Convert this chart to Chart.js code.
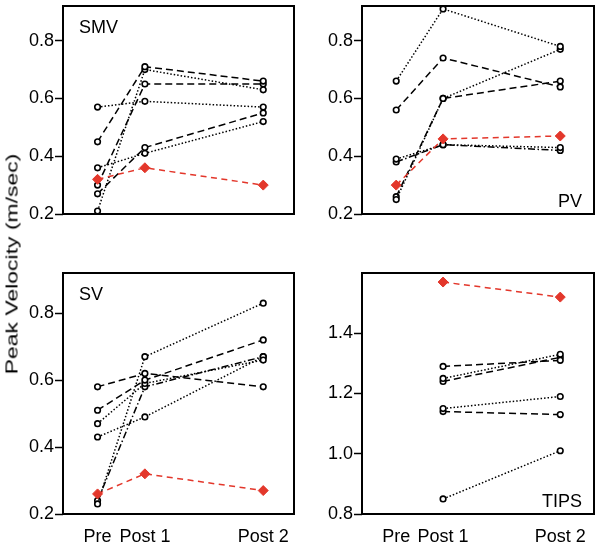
<!DOCTYPE html>
<html>
<head>
<meta charset="utf-8">
<script src="https://cdn.jsdelivr.net/npm/chart.js@4"></script>
<style>
  html, body { margin: 0; padding: 0; background: #fff; }
  body { width: 600px; height: 542px; position: relative; overflow: hidden; font-family: "Liberation Sans", Arial, sans-serif; }
  .panel { position: absolute; }
  #ytitle {
    position: absolute; left: 12px; top: 264px;
    font-size: 17px; line-height: 17px; white-space: nowrap; color: #000;
    transform-origin: 0 0;
    transform: rotate(-90deg) scaleX(1.35) translate(-50%, -50%);
  }
</style>
</head>
<body>
<div class="panel" style="left:0;top:0;width:300px;height:250px"><canvas id="smv"></canvas></div>
<div class="panel" style="left:300px;top:0;width:300px;height:250px"><canvas id="pv"></canvas></div>
<div class="panel" style="left:0;top:260px;width:300px;height:282px"><canvas id="sv"></canvas></div>
<div class="panel" style="left:300px;top:260px;width:300px;height:282px"><canvas id="tips"></canvas></div>
<div id="ytitle">Peak Velocity (m/sec)</div>
<script>
// time points
const steps = ["Pre", "Post 1", "Post 2"];
const stepPos = [0, 1, 3.5];
const veinTicks = [0.2, 0.4, 0.6, 0.8];
const tipsTicks = [0.8, 1.0, 1.2, 1.4];

// SMV
const smvMean = [0.32, 0.36, 0.30];
const smvPatients = [
    [0.45, 0.71, 0.66],
    [0.21, 0.70, 0.63],
    [0.30, 0.65, 0.65],
    [0.57, 0.59, 0.57],
    [0.27, 0.43, 0.55],
    [0.36, 0.41, 0.52]
];

// PV
const pvMean = [0.30, 0.46, 0.47];
const pvPatients = [
    [0.66, 0.91, 0.78],
    [0.56, 0.74, 0.64],
    [0.25, 0.60, 0.77],
    [0.26, 0.60, 0.66],
    [0.39, 0.44, 0.43],
    [0.38, 0.44, 0.42]
];

// SV
const svMean = [0.26, 0.32, 0.27];
const svPatients = [
    [0.58, 0.62, 0.58],
    [0.51, 0.60, 0.72],
    [0.47, 0.59, 0.66],
    [0.43, 0.49, 0.67],
    [0.23, 0.67, 0.83],
    [0.24, 0.58, 0.67]
];

// TIPS (no pre value)
const tipsMean = [null, 1.57, 1.52];
const tipsPatients = [
    [null, 1.29, 1.31],
    [null, 1.25, 1.33],
    [null, 1.24, 1.32],
    [null, 1.15, 1.19],
    [null, 1.14, 1.13],
    [null, 0.85, 1.01]
];

const FONT = '"Liberation Sans", Arial, sans-serif';
const RED = "#e3372b";
const dashes = {
    dash: [7, 4],
    dot: [1.5, 2],
    dotdash: [7, 2.5, 1.5, 2.5]
};
// line style of each patient, per panel
const smvStyle = ["dash", "dot", "dash", "dot", "dash", "dot"];
const pvStyle = ["dot", "dash", "dot", "dash", "dot", "dotdash"];
const svStyle = ["dash", "dash", "dot", "dot", "dot", "dotdash"];
const tipsStyle = ["dash", "dot", "dash", "dot", "dash", "dot"];

Chart.defaults.font.family = FONT;
Chart.defaults.font.size = 18;
Chart.defaults.color = "#000";
Chart.defaults.animation = false;

const pts = vals => vals.map((v, i) => ({ x: stepPos[i], y: v }));

const framePlugin = {
    id: "frame",
    afterDatasetsDraw(chart, args, opts) {
        const a = chart.chartArea, ctx = chart.ctx;
        ctx.save();
        ctx.strokeStyle = "#000";
        ctx.lineWidth = 2;
        ctx.strokeRect(a.left, a.top, a.right - a.left, a.bottom - a.top);
        ctx.fillStyle = "#000";
        ctx.font = "18px " + FONT;
        if (opts.corner === "tl") {
            ctx.textAlign = "left";
            ctx.fillText(opts.text, a.left + 16, a.top + 27);
        } else {
            ctx.textAlign = "right";
            ctx.fillText(opts.text, a.right - 12, a.bottom - 7);
        }
        ctx.restore();
    }
};

function makePanel(id, mean, patients, styles, cfg) {
    const datasets = [{
        data: pts(mean),
        borderColor: RED,
        borderWidth: 1.5,
        borderDash: [6, 4.5],
        pointStyle: "rectRot",
        pointRadius: 5,
        pointBackgroundColor: RED,
        pointBorderColor: RED,
        pointBorderWidth: 1,
        clip: false
    }];
    patients.forEach((p, i) => {
        datasets.push({
            data: pts(p),
            borderColor: "#000",
            borderWidth: 1.5,
            borderDash: dashes[styles[i]],
            pointStyle: "circle",
            pointRadius: 2.8,
            pointBackgroundColor: "#fff",
            pointBorderColor: "#000",
            pointBorderWidth: 1.6,
            clip: false
        });
    });

    return new Chart(document.getElementById(id), {
        type: "line",
        data: { datasets },
        options: {
            responsive: true,
            maintainAspectRatio: false,
            events: [],
            layout: { padding: cfg.padding },
            plugins: {
                legend: { display: false },
                tooltip: { enabled: false },
                frame: { text: cfg.label, corner: cfg.corner }
            },
            scales: {
                x: {
                    type: "linear",
                    display: cfg.showX,
                    min: -0.73,
                    max: cfg.xMax,
                    afterBuildTicks: ax => { ax.ticks = stepPos.map(v => ({ value: v })); },
                    afterFit: ax => { ax.height = 28; ax.paddingLeft = 0; ax.paddingRight = 0; },
                    grid: { display: false, drawTicks: false },
                    border: { display: false },
                    ticks: {
                        autoSkip: false,
                        maxRotation: 0,
                        padding: 12,
                        callback: v => steps[stepPos.indexOf(v)]
                    }
                },
                y: {
                    min: cfg.yMin,
                    max: cfg.yMax,
                    afterBuildTicks: ax => { ax.ticks = cfg.ticks.map(v => ({ value: v })); },
                    afterFit: ax => { ax.width = cfg.yWidth; ax.paddingTop = 0; ax.paddingBottom = 0; },
                    grid: {
                        drawOnChartArea: false,
                        drawTicks: true,
                        tickLength: 8,
                        tickColor: "#000",
                        tickWidth: 1.5
                    },
                    border: { display: false },
                    ticks: {
                        padding: 1,
                        callback: v => v.toFixed(1)
                    }
                }
            }
        },
        plugins: [framePlugin]
    });
}

makePanel("smv", smvMean, smvPatients, smvStyle, {
    label: "SMV", corner: "tl", showX: false, xMax: 4.15,
    yMin: 0.2, yMax: 0.92, ticks: veinTicks, yWidth: 63,
    padding: { top: 1, right: 3, bottom: 8, left: 0 }
});
makePanel("pv", pvMean, pvPatients, pvStyle, {
    label: "PV", corner: "br", showX: false, xMax: 4.22,
    yMin: 0.2, yMax: 0.92, ticks: veinTicks, yWidth: 62,
    padding: { top: 1, right: 1, bottom: 8, left: 0 }
});
makePanel("sv", svMean, svPatients, svStyle, {
    label: "SV", corner: "tl", showX: true, xMax: 4.15,
    yMin: 0.2, yMax: 0.92, ticks: veinTicks, yWidth: 63,
    padding: { top: 13, right: 3, bottom: 0, left: 0 }
});
makePanel("tips", tipsMean, tipsPatients, tipsStyle, {
    label: "TIPS", corner: "br", showX: true, xMax: 4.22,
    yMin: 0.8, yMax: 1.6, ticks: tipsTicks, yWidth: 62,
    padding: { top: 13, right: 1, bottom: 0, left: 0 }
});
</script>
</body>
</html>
